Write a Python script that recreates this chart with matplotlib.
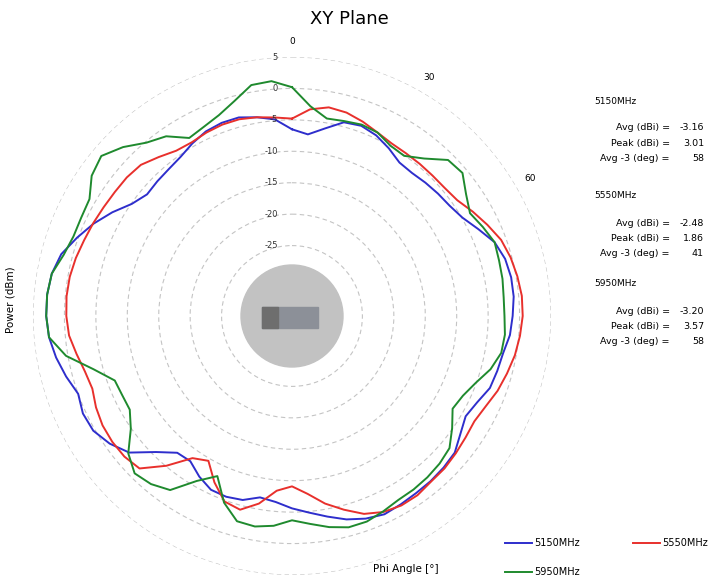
import numpy as np
import matplotlib
matplotlib.use("Agg")
import matplotlib.pyplot as plt
from matplotlib.lines import Line2D
from matplotlib.patches import Circle, Rectangle

# Phi angle in degrees (clockwise from top), gain in dB
ANGLES = list(range(0, 360, 5))
GAIN_5150 = [-6.5, -7.2, -5.9, -4.3, -4.0, -4.5, -5.4, -6.4, -6.5, -6.2, -5.9, -5.6,
             -4.9, -3.5, -1.9, -1.1, -0.8, -0.8, -1.1, -1.4, -2.1, -2.4, -2.7, -3.7,
             -4.3, -3.5, -2.4, -2.1, -1.9, -1.8, -1.6, -1.4, -1.9, -2.7, -3.8, -4.8,
             -5.6, -6.5, -6.9, -5.9, -5.6, -5.7, -6.7, -8.0, -7.8, -5.6, -2.4, -0.8,
             0.3, 0.5, 0.0, 1.0, 1.9, 2.6, 2.9, 2.9, 2.6, 1.8, 0.2, -1.4,
             -3.2, -5.1, -6.1, -5.9, -5.7, -5.3, -4.5, -3.8, -3.5, -3.5, -4.1, -4.8]
GAIN_5550 = [-4.8, -3.2, -2.5, -2.7, -3.3, -4.0, -4.5, -4.6, -4.6, -4.6, -4.5, -4.1,
             -3.0, -1.9, -0.8, -0.2, 0.2, 0.5, 0.5, 0.2, -0.2, -0.8, -1.4, -2.2,
             -2.7, -2.5, -2.2, -1.9, -1.8, -1.4, -1.4, -1.8, -2.7, -4.3, -5.9, -7.8,
             -9.1, -8.3, -5.9, -4.3, -4.8, -7.0, -9.6, -8.6, -5.1, -1.9, -1.4, -1.3,
             -1.4, -1.8, -2.4, -2.1, -1.4, -0.6, -0.3, -0.2, -0.3, -0.6, -1.0, -1.3,
             -1.6, -1.8, -1.9, -2.2, -3.2, -4.1, -4.3, -4.0, -3.8, -3.8, -4.1, -4.5]
GAIN_5950 = [0.2, -2.7, -4.3, -4.1, -3.8, -4.0, -4.9, -5.1, -3.5, -1.1, -0.8, -2.4,
             -3.5, -2.7, -1.9, -2.1, -2.2, -2.4, -2.4, -2.2, -2.4, -3.5, -5.1, -6.2,
             -6.7, -5.1, -3.5, -3.0, -2.7, -2.5, -2.4, -1.9, -1.4, -1.4, -2.1, -3.0,
             -3.7, -2.7, -2.2, -2.4, -4.6, -8.1, -5.9, -2.4, -1.3, -0.8, -2.2, -4.9,
             -6.4, -6.4, -6.2, -3.5, 0.3, 2.6, 2.9, 2.9, 2.6, 1.4, 0.8, 0.8,
             1.0, 2.7, 3.4, 1.8, -0.2, -1.3, -3.5, -3.0, -2.2, -0.8, 1.1, 1.3]

SERIES = [("5150MHz", GAIN_5150, "#2e2ecc"),
          ("5550MHz", GAIN_5550, "#e8302c"),
          ("5950MHz", GAIN_5950, "#1f8a2e")]

RINGS = [5, 0, -5, -10, -15, -20, -25]
ANGLE_TICKS = [0, 30, 60]

STATS = [
    ("5150MHz", ["-3.16", "3.01", "58"]),
    ("5550MHz", ["-2.48", "1.86", "41"]),
    ("5950MHz", ["-3.20", "3.57", "58"]),
]
STAT_NAMES = ["Avg (dBi) =", "Peak (dBi) =", "Avg -3 (deg) ="]

plt.rcParams["font.family"] = ["DejaVu Sans"]

W, H = 709, 582
fig = plt.figure(figsize=(W / 100, H / 100), dpi=100)

cx, cy, R = 292, 316, 259
ax = fig.add_axes([(cx - R) / W, (H - cy - R) / H, 2 * R / W, 2 * R / H], projection="polar")
ax.set_theta_zero_location("N")
ax.set_theta_direction(-1)
ax.set_rlim(-30, 5)
ax.set_rorigin(-36.2)
ax.spines["polar"].set_visible(False)
ax.set_rgrids(RINGS, labels=[""] * len(RINGS))
ax.yaxis.grid(True, color="#c4c4c4", linestyle=(0, (4, 3)), linewidth=0.8)
ax.set_thetagrids(ANGLE_TICKS, labels=[str(a) for a in ANGLE_TICKS], fontsize=6.5)
ax.xaxis.grid(False)
ax.tick_params(axis="x", pad=1)

for name, gain, color in SERIES:
    th = np.deg2rad(ANGLES + [ANGLES[0]])
    r = gain + [gain[0]]
    ax.plot(th, r, color=color, linewidth=1.4, label=name)

for v in RINGS:
    ax.annotate(str(v), xy=(0, v), xytext=(-14, 0), textcoords="offset pixels",
                fontsize=6, ha="right", va="center", color="#333333")

# center disc with device
dax = fig.add_axes([(cx - 60) / W, (H - cy - 60) / H, 120 / W, 120 / H])
dax.set_xlim(-60, 60)
dax.set_ylim(-60, 60)
dax.axis("off")
dax.add_patch(Circle((0, 0), 51, color="#c2c2c2"))
dax.add_patch(Rectangle((-30, -12), 56, 21, color="#8c9098"))
dax.add_patch(Rectangle((-30, -12), 16, 21, color="#6e6e6e"))

fig.text(349 / W, 1 - 19 / H, "XY Plane", fontsize=13, ha="center", va="center")
fig.text(11 / W, 1 - 300 / H, "Power (dBm)", fontsize=7.5, rotation=90, ha="center", va="center")
fig.text(406 / W, 1 - 569 / H, "Phi Angle [\u00b0]", fontsize=7.5, ha="center", va="center")

block_y = [101, 196, 284]
for (freq, vals), y0 in zip(STATS, block_y):
    fig.text(594 / W, 1 - y0 / H, freq, fontsize=6.5, ha="left", va="center")
    for i, (nm, val) in enumerate(zip(STAT_NAMES, vals)):
        yy = y0 + 27 + i * 15.5
        fig.text(670 / W, 1 - yy / H, nm, fontsize=6.8, ha="right", va="center")
        fig.text(704 / W, 1 - yy / H, val, fontsize=6.8, ha="right", va="center")

# legend swatches
legend_pos = [(505, 543), (633, 543), (505, 572)]
for (name, gain, color), (lx, ly) in zip(SERIES, legend_pos):
    fig.add_artist(Line2D([lx / W, (lx + 27) / W], [1 - ly / H, 1 - ly / H],
                          color=color, linewidth=1.4, transform=fig.transFigure))
    fig.text((lx + 29) / W, 1 - ly / H, name, fontsize=7, ha="left", va="center")

fig.savefig("out.png", dpi=100)
